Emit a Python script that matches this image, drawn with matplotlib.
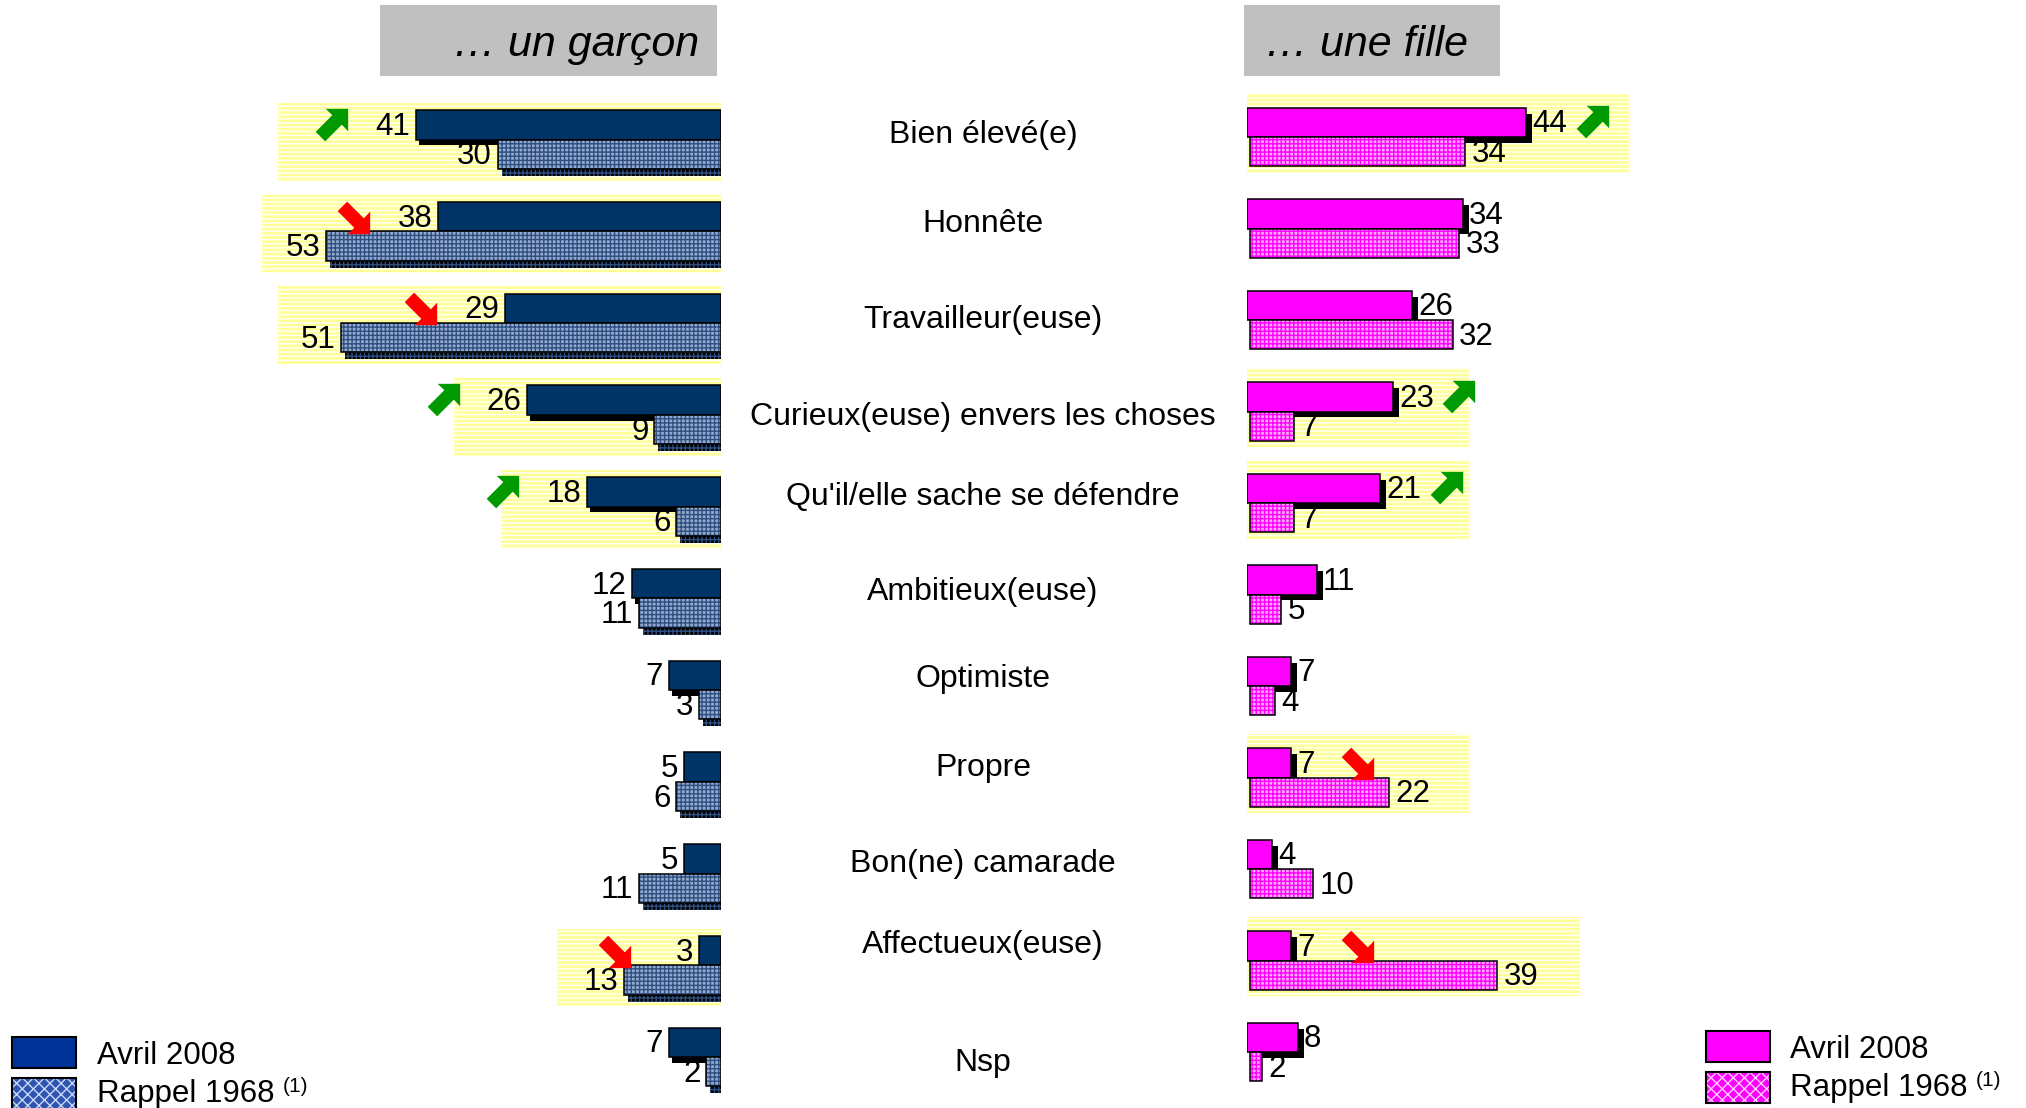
import matplotlib
matplotlib.use("Agg")
import matplotlib.pyplot as plt
import matplotlib.patheffects as pe
import matplotlib.transforms as mtransforms
from matplotlib.patches import Rectangle
from matplotlib.path import Path

plt.rcParams['font.family'] = ['Liberation Sans', 'DejaVu Sans']
plt.rcParams['hatch.linewidth'] = 1.0

# data
categories = ["Bien élevé(e)", "Honnête", "Travailleur(euse)",
              "Curieux(euse) envers les choses", "Qu'il/elle sache se défendre",
              "Ambitieux(euse)", "Optimiste", "Propre", "Bon(ne) camarade",
              "Affectueux(euse)", "Nsp"]
garcon_2008 = [41, 38, 29, 26, 18, 12, 7, 5, 5, 3, 7]
garcon_1968 = [30, 53, 51, 9, 6, 11, 3, 6, 11, 13, 2]
fille_2008 = [44, 34, 26, 23, 21, 11, 7, 7, 4, 7, 8]
fille_1968 = [34, 33, 32, 7, 7, 5, 4, 22, 10, 39, 2]
garcon_trend = ["up", "down", "down", "up", "up", None, None, None, None, "down", None]
fille_trend = ["up", None, None, "up", "up", None, None, "down", None, "down", None]

# layout / style
band_reach_g = [59.5, 61.6, 59.5, 35.8, 29.5, 0, 0, 0, 0, 22.0, 0]
band_reach_f = [60.2, 0, 0, 35.0, 35.0, 0, 0, 35.0, 0, 52.4, 0]
label_shift = [-0.05, -0.08, -0.03, 0.02, -0.105, -0.07, -0.12, -0.15, -0.105, -0.22, 0.07]

DARK_G = "#003366"
LIGHT_G, HATCH_G = "#94abcf", "#2f4f80"
DARK_F = "#ff00ff"
LIGHT_F, HATCH_F = "#ffa8ff", "#ff00ff"
BAND = "#ffff99"
UP, DOWN = "#009900", "#ff0000"
FS = 22.5

W, H = 2026, 1108
fig = plt.figure(figsize=(W / 100, H / 100), dpi=100)


def fx(px):
    return px / W


def fy(py):
    return 1 - py / H


# left panel grows leftwards from x=721px, right panel rightwards from 1247px
axL = fig.add_axes([0, 0, fx(721), 1])
axL.set_xlim(721 / 7.45, 0)
axL.set_ylim((H - 139.5) / 91.75, -139.5 / 91.75)
axR = fig.add_axes([fx(1247), 0, 1 - fx(1247), 1])
axR.set_xlim(0, (W - 1247) / 6.35)
axR.set_ylim((H - 137) / 91.5, -137 / 91.5)
for ax in (axL, axR):
    ax.axis("off")

rows = list(range(len(categories)))
bh = 0.32

arrow_ne = Path([(1, 1), (-0.35, 1), (0.05, 0.62), (-0.95, -0.38), (-0.38, -0.95),
                 (0.62, 0.05), (1, -0.35), (1, 1)], closed=True)
arrow_se = Path([(x, -y) for x, y in arrow_ne.vertices], closed=True)


def shadow(dx, dy):
    return [pe.SimplePatchShadow(offset=(dx, dy), shadow_rgbFace="black", alpha=1.0), pe.Normal()]


# highlight bands
for i in rows:
    if garcon_trend[i]:
        start = -1.7 if i == 9 else -0.8
        axL.add_patch(Rectangle((start, i - 0.40), band_reach_g[i] - start, 0.86,
                                facecolor=BAND, edgecolor="white", lw=0, hatch="----", zorder=0))
    if fille_trend[i]:
        start = -3.1 if i == 0 else -0.5
        axR.add_patch(Rectangle((start, i - 0.47), band_reach_f[i] - start, 0.86,
                                facecolor=BAND, edgecolor="white", lw=0, hatch="----", zorder=0))

# garcon bars
axL.barh([r - bh / 2 for r in rows], garcon_2008, height=bh, color=DARK_G,
         edgecolor="black", lw=1.1, zorder=2, path_effects=shadow(2.2, -4.3))
axL.barh([r + bh / 2 for r in rows], garcon_1968, height=bh, color=LIGHT_G,
         edgecolor=HATCH_G, lw=0, hatch="++++", zorder=3, path_effects=shadow(2.9, -5))
axL.barh([r + bh / 2 for r in rows], garcon_1968, height=bh, fill=False,
         edgecolor="black", lw=1.1, zorder=4)

# fille bars
axR.barh([r - bh / 2 for r in rows], fille_2008, height=bh, color=DARK_F,
         edgecolor="black", lw=1.1, zorder=2, path_effects=shadow(4.3, -4.3))
axR.barh([r + bh / 2 for r in rows], fille_1968, left=0.4, height=bh, color=LIGHT_F,
         edgecolor=HATCH_F, lw=0, hatch="++++", zorder=3)
axR.barh([r + bh / 2 for r in rows], fille_1968, left=0.4, height=bh, fill=False,
         edgecolor="black", lw=1.1, zorder=4)

# value labels
for i in rows:
    axL.annotate(str(garcon_2008[i]), (garcon_2008[i], i - bh / 2), xytext=(-4, -1.5),
                 textcoords="offset points", ha="right", va="center", fontsize=FS, zorder=5)
    axL.annotate(str(garcon_1968[i]), (garcon_1968[i], i + bh / 2), xytext=(-4, -1.5),
                 textcoords="offset points", ha="right", va="center", fontsize=FS, zorder=5)
    axR.annotate(str(fille_2008[i]), (fille_2008[i], i - bh / 2), xytext=(4.5, -1.5),
                 textcoords="offset points", ha="left", va="center", fontsize=FS, zorder=5)
    axR.annotate(str(fille_1968[i]), (fille_1968[i] + 0.4, i + bh / 2), xytext=(4.5, -1.5),
                 textcoords="offset points", ha="left", va="center", fontsize=FS, zorder=5)

# trend arrows
offL = mtransforms.offset_copy(axL.transData, fig, x=-61, y=0, units="points")
offR = mtransforms.offset_copy(axR.transData, fig, x=47, y=0, units="points")
for i in rows:
    t = garcon_trend[i]
    if t:
        axL.plot(garcon_2008[i], i - bh / 2, marker=arrow_ne if t == "up" else arrow_se,
                 ms=24, color=UP if t == "up" else DOWN, mec="none", ls="none",
                 transform=offL, clip_on=False, zorder=6)
    t = fille_trend[i]
    if t:
        axR.plot(fille_2008[i], i - bh / 2, marker=arrow_ne if t == "up" else arrow_se,
                 ms=24, color=UP if t == "up" else DOWN, mec="none", ls="none",
                 transform=offR, clip_on=False, zorder=6)

# category labels in the middle
trans = mtransforms.blended_transform_factory(fig.transFigure, axL.transData)
for i, c in enumerate(categories):
    axL.text(fx(983), i + label_shift[i], c, transform=trans, ha="center", va="center",
             fontsize=23, clip_on=False)

# header boxes
fig.patches.append(Rectangle((fx(380), fy(76)), fx(717 - 380), (76 - 5) / H,
                             transform=fig.transFigure, facecolor="#c0c0c0", edgecolor="none"))
fig.patches.append(Rectangle((fx(1244), fy(76)), fx(1500 - 1244), (76 - 5) / H,
                             transform=fig.transFigure, facecolor="#c0c0c0", edgecolor="none"))
fig.text(fx(699), fy(45), "… un garçon", ha="right", va="center", fontsize=31, style="italic")
fig.text(fx(1366), fy(45), "… une fille", ha="center", va="center", fontsize=31, style="italic")


# legends
def legend(x0, y0, dark, light, hatchc, tx, ty):
    fig.patches.append(Rectangle((fx(x0), fy(y0 + 31)), fx(64), 31 / H, transform=fig.transFigure,
                                 facecolor=dark, edgecolor="black", lw=1.5))
    fig.patches.append(Rectangle((fx(x0), fy(y0 + 72)), fx(64), 31 / H, transform=fig.transFigure,
                                 facecolor=light, edgecolor=hatchc, lw=0, hatch="xxx"))
    fig.patches.append(Rectangle((fx(x0), fy(y0 + 72)), fx(64), 31 / H, transform=fig.transFigure,
                                 fill=False, edgecolor="black", lw=1.5))
    fig.text(fx(tx), fy(ty), "Avril 2008", ha="left", va="center", fontsize=FS)
    t = fig.text(fx(tx), fy(ty + 38), "Rappel 1968 ", ha="left", va="center", fontsize=FS)
    axL.annotate("(1)", xy=(1, 1.05), xycoords=t, ha="left", va="top", fontsize=15,
                 annotation_clip=False)


legend(12, 1037, "#003399", "#2f55b0", "#c8d8f8", 97, 1056)
legend(1706, 1031, "#ff00ff", "#ff00ff", "#ffd0ff", 1790, 1050)

fig.savefig("out.png", dpi=100)
